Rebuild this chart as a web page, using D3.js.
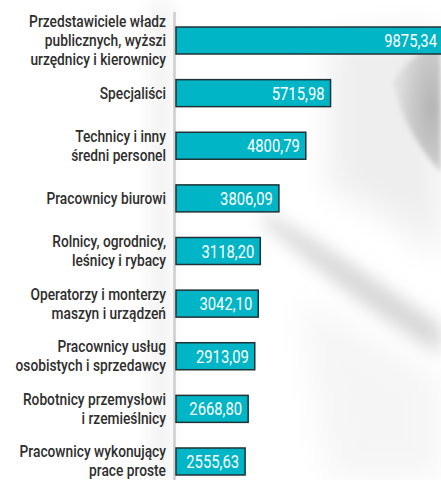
<!DOCTYPE html>
<html>
<head>
<meta charset="utf-8">
<script src="https://cdn.jsdelivr.net/npm/d3@7"></script>
<style>
  html, body { margin: 0; padding: 0; background: #fff; }
  svg { display: block; }
</style>
</head>
<body>
<div id="chart"></div>
<script>
// Categories (line-broken as they are set on the page) and their values
const categories = [
  ["Przedstawiciele władz", "publicznych, wyższi", "urzędnicy i kierownicy"],
  ["Specjaliści"],
  ["Technicy i inny", "średni personel"],
  ["Pracownicy biurowi"],
  ["Rolnicy, ogrodnicy,", "leśnicy i rybacy"],
  ["Operatorzy i monterzy", "maszyn i urządzeń"],
  ["Pracownicy usług", "osobistych i sprzedawcy"],
  ["Robotnicy przemysłowi", "i rzemieślnicy"],
  ["Pracownicy wykonujący", "prace proste"]
];
const values = [9875.34, 5715.98, 4800.79, 3806.09, 3118.20, 3042.10, 2913.09, 2668.80, 2555.63];

const W = 441, H = 480;
const fontFamily = "Roboto, 'Liberation Sans', sans-serif";

const svg = d3.select("#chart").append("svg")
  .attr("width", W).attr("height", H);

// Soft grey backdrop shapes
const defs = svg.append("defs");
defs.append("filter").attr("id", "soft").attr("x", "-50%").attr("y", "-50%").attr("width", "200%").attr("height", "200%")
  .append("feGaussianBlur").attr("stdDeviation", 9);
defs.append("filter").attr("id", "softer").attr("x", "-50%").attr("y", "-50%").attr("width", "200%").attr("height", "200%")
  .append("feGaussianBlur").attr("stdDeviation", 16);
defs.append("filter").attr("id", "edge").attr("x", "-50%").attr("y", "-50%").attr("width", "200%").attr("height", "200%")
  .append("feGaussianBlur").attr("stdDeviation", 2.5);

const rg = defs.append("radialGradient").attr("id", "blob").attr("cx", "0.8").attr("cy", "0.5").attr("r", "0.7");
rg.append("stop").attr("offset", "0").attr("stop-color", "#b4b4b4");
rg.append("stop").attr("offset", "0.6").attr("stop-color", "#cacaca");
rg.append("stop").attr("offset", "1").attr("stop-color", "#dedede");

const bg = svg.append("g");
// faint haze on the upper middle and right
bg.append("path")
  .attr("d", "M330,40 C370,30 441,30 441,30 L441,260 C410,230 370,200 330,190 Z")
  .attr("fill", "#eeeeee").attr("filter", "url(#softer)");
// grey blob on the right edge
bg.append("path")
  .attr("d", "M394,82 C402,62 425,48 441,44 L441,172 C422,152 400,120 394,82 Z")
  .attr("fill", "url(#blob)").attr("filter", "url(#edge)");
// diagonal grey sweep in the lower right
bg.append("path")
  .attr("d", "M262,212 C320,240 380,285 441,325 L441,355 C380,320 320,270 262,222 Z")
  .attr("fill", "#d6d6d6").attr("filter", "url(#soft)");
bg.append("path")
  .attr("d", "M300,300 C360,330 410,360 441,380 L441,480 L330,480 C320,420 310,360 300,300 Z")
  .attr("fill", "#f5f5f5").attr("filter", "url(#softer)");
// light haze along the axis
bg.append("rect").attr("x", 150).attr("y", 0).attr("width", 22).attr("height", H)
  .attr("fill", "#f3f3f3").attr("filter", "url(#soft)");

// Scales
const y = d3.scaleBand()
  .domain(d3.range(values.length))
  .range([14.2, 487.8])
  .paddingInner(0.487)
  .paddingOuter(0.2435);

const x = d3.scaleLinear()
  .domain([0, values[0]])
  .range([176, 443]);

// Vertical axis line
svg.append("line")
  .attr("x1", 174.5).attr("x2", 174.5)
  .attr("y1", 12).attr("y2", H)
  .attr("stroke", "#cdcdcd").attr("stroke-width", 2.5);

// Bars
svg.append("g").selectAll("rect")
  .data(values)
  .join("rect")
  .attr("x", x(0))
  .attr("y", (d, i) => y(i))
  .attr("width", d => x(d) - x(0))
  .attr("height", y.bandwidth())
  .attr("fill", "#00b5c5")
  .attr("stroke", "#1f3236")
  .attr("stroke-width", 1.5);

// Value labels inside bar ends
const fmt = v => d3.format(".2f")(v).replace(".", ",");
svg.append("g").selectAll("text")
  .data(values)
  .join("text")
  .attr("transform", (d, i) => `translate(${x(d) - 6},${y(i) + y.bandwidth() / 2 + 6.5}) scale(0.8,1)`)
  .attr("text-anchor", "end")
  .attr("font-family", fontFamily)
  .attr("font-size", 18.5)
  .attr("fill", "#ffffff")
  .text(d => fmt(d));

// Category labels, right-aligned against the axis
const lh = 19;
const labels = svg.append("g").selectAll("text")
  .data(categories)
  .join("text")
  .attr("transform", (d, i) => {
    const cy = y(i) + y.bandwidth() / 2;
    const first = cy - (d.length - 1) / 2 * lh + 5.5;
    return `translate(166,${first}) scale(0.86,1)`;
  })
  .attr("text-anchor", "end")
  .attr("font-family", fontFamily)
  .attr("font-size", 16)
  .attr("font-weight", 500)
  .attr("fill", "#2e2e2e");

labels.selectAll("tspan")
  .data(d => d)
  .join("tspan")
  .attr("x", 0)
  .attr("y", (d, j) => j * lh)
  .text(d => d);
</script>
</body>
</html>
